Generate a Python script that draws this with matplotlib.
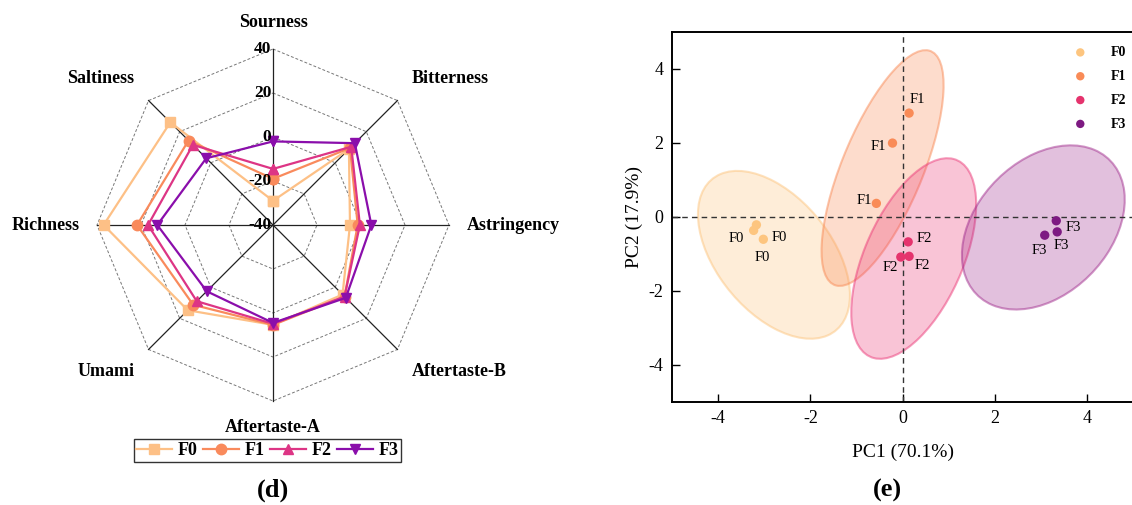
import numpy as np
import matplotlib
matplotlib.use("Agg")
import matplotlib.pyplot as plt
from matplotlib.patches import Ellipse

plt.rcParams['font.family'] = ['Liberation Serif', 'DejaVu Serif']
plt.rcParams['axes.unicode_minus'] = False

# ---- taste radar data ----
attributes = ['Sourness', 'Bitterness', 'Astringency', 'Aftertaste-B',
              'Aftertaste-A', 'Umami', 'Richness', 'Saltiness']
samples = ['F0', 'F1', 'F2', 'F3']
f0_taste = [-29.0, 8.8, -5.0, 4.7, 5.4, 14.8, 37.0, 26.0]
f1_taste = [-19.0, 9.5, -1.5, 6.0, 5.4, 11.3, 21.8, 14.3]
f2_taste = [-14.5, 10.3, -0.5, 6.0, 4.9, 9.0, 16.8, 11.5]
f3_taste = [-2.0, 12.6, 4.7, 6.8, 4.5, 2.6, 12.6, 2.9]
radar_ticks = [-40, -20, 0, 20, 40]

# ---- PCA scores ----
pc1_f0 = [-3.17, -3.23, -3.02]
pc2_f0 = [-0.22, -0.37, -0.61]
pc1_f1 = [0.14, -0.22, -0.57]
pc2_f1 = [2.80, 1.99, 0.36]
pc1_f2 = [0.12, -0.04, 0.14]
pc2_f2 = [-0.68, -1.09, -1.07]
pc1_f3 = [3.33, 3.35, 3.08]
pc2_f3 = [-0.11, -0.41, -0.50]

# confidence ellipses: centre, full width, full height, angle (deg)
ell_cx = [-2.79, -0.435, 0.24, 3.05]
ell_cy = [-1.03, 1.315, -1.13, -0.29]
ell_w = [4.94, 6.66, 5.65, 4.74]
ell_h = [2.65, 1.80, 2.19, 3.11]
ell_ang = [-62.0, 72.4, 72.2, 62.2]

radar_colors = ['#FDC086', '#F98A5C', '#DD3585', '#8A0EAB']
radar_markers = ['s', 'o', '^', 'v']
pca_colors = ['#FDC57F', '#F98B57', '#E5336D', '#7D1A82']
ell_colors = ['#FDC57F', '#F98B57', '#EC3C7A', '#A2308F']

fig = plt.figure(figsize=(11.32, 5.05), dpi=100)

# ================= radar (d) =================
ppu = 2.2  # pixels per radar unit
ax = fig.add_axes([0, 0, 546 / 1132, 1])
ax.set_xlim(-273 / ppu, 273 / ppu)
ax.set_ylim(-280 / ppu, 225 / ppu)
ax.axis('off')

angles = np.deg2rad(90 - 45 * np.arange(len(attributes)))
r_min = radar_ticks[0]
r_out = radar_ticks[-1] - r_min


def to_xy(vals):
    r = np.asarray(vals) - r_min
    return r * np.cos(angles), r * np.sin(angles)


# octagonal dashed grid
for t in radar_ticks[1:]:
    gx, gy = to_xy([t] * len(attributes))
    ax.plot(np.append(gx, gx[0]), np.append(gy, gy[0]), ls=(0, (3, 2)),
            color='#777777', lw=0.7, zorder=1)
# spokes
for a in angles:
    ax.plot([0, r_out * np.cos(a)], [0, r_out * np.sin(a)], color='#222222',
            lw=0.9, zorder=2)

for name, vals, c, m in zip(samples, [f0_taste, f1_taste, f2_taste, f3_taste],
                            radar_colors, radar_markers):
    x, y = to_xy(vals)
    ax.plot(np.append(x, x[0]), np.append(y, y[0]), color=c, lw=1.6,
            marker=m, markersize=7.5, label=name, zorder=3)

# radial scale on the top spoke
for t in radar_ticks:
    ax.text(-0.8, t - r_min, str(t), ha='right', va='center', fontsize=12.5,
            fontweight='bold', zorder=4)

# attribute labels just outside the outer octagon
for name, a in zip(attributes, angles):
    ca, sa = np.cos(a), np.sin(a)
    ha = 'left' if ca > 0.1 else ('right' if ca < -0.1 else 'center')
    va = 'bottom' if sa > 0.1 else ('top' if sa < -0.1 else 'center')
    off = 9.0 if abs(ca) > 0.1 and abs(sa) > 0.1 else 8.0
    ax.text((r_out + off) * ca, (r_out + off) * sa, name, ha=ha, va=va,
            fontsize=13, fontweight='bold')

fig.legend(loc='center', bbox_to_anchor=(267.5 / 1132, 1 - 450.5 / 505),
           ncol=4, frameon=True, fancybox=False, edgecolor='black',
           prop={'weight': 'bold', 'size': 13}, handlelength=2.0,
           handletextpad=0.3, columnspacing=0.3, borderpad=0.15,
           borderaxespad=0)
fig.legends[-1].get_frame().set_linewidth(1.0)

fig.text(273 / 1132, 1 - 490 / 505, '(d)', ha='center', va='center',
         fontsize=19, fontweight='bold')

# ================= PCA (e) =================
bx = fig.add_axes([672 / 1132, 103.3 / 505, 461.3 / 1132, 370 / 505])
bx.set_xlim(-5, 5)
bx.set_ylim(-5, 5)

for cx, cy, w, h, ang, c in zip(ell_cx, ell_cy, ell_w, ell_h, ell_ang, ell_colors):
    bx.add_patch(Ellipse((cx, cy), w, h, angle=ang, facecolor=c, alpha=0.3,
                         edgecolor='none', zorder=1))
    bx.add_patch(Ellipse((cx, cy), w, h, angle=ang, facecolor='none',
                         edgecolor=c, alpha=0.5, lw=1.5, zorder=1))

bx.axhline(0, color='#333333', ls=(0, (4, 3)), lw=1.0, zorder=2)
bx.axvline(0, color='#333333', ls=(0, (4, 3)), lw=1.0, zorder=2)

# label offsets in pixels (dx, dy) for each score point
label_off = [
    [(23, -13), (-17, -8), (-1, -18)],
    [(8, 14), (-14, -3), (-12, 3)],
    [(16, 3), (-11, -10), (13, -9)],
    [(17, -7), (4, -14), (-5, -15)],
]
groups = [(pc1_f0, pc2_f0), (pc1_f1, pc2_f1), (pc1_f2, pc2_f2), (pc1_f3, pc2_f3)]
for name, (px, py), c, offs in zip(samples, groups, pca_colors, label_off):
    bx.scatter(px, py, s=45, color=c, edgecolors='none', zorder=3, label=name)
    for xi, yi, o in zip(px, py, offs):
        bx.annotate(name, (xi, yi), xytext=o, textcoords='offset pixels',
                    ha='center', va='center', fontsize=10.5, zorder=4)

bx.set_xticks([-4, -2, 0, 2, 4])
bx.set_yticks([-4, -2, 0, 2, 4])
bx.tick_params(direction='in', length=6, width=1.0, labelsize=13, pad=6,
               top=False, right=False)
for s in bx.spines.values():
    s.set_linewidth(1.4)
bx.set_xlabel('PC1 (70.1%)', fontsize=14, labelpad=12)
bx.set_ylabel('PC2 (17.9%)', fontsize=14, labelpad=4)

bx.legend(loc='upper right', bbox_to_anchor=(1.012, 0.995), frameon=False,
          prop={'weight': 'bold', 'size': 10}, handletextpad=1.2,
          labelspacing=0.78, markerscale=0.9)

fig.text(887 / 1132, 1 - 490 / 505, '(e)', ha='center', va='center',
         fontsize=19, fontweight='bold')

fig.savefig('out.png', dpi=100)
